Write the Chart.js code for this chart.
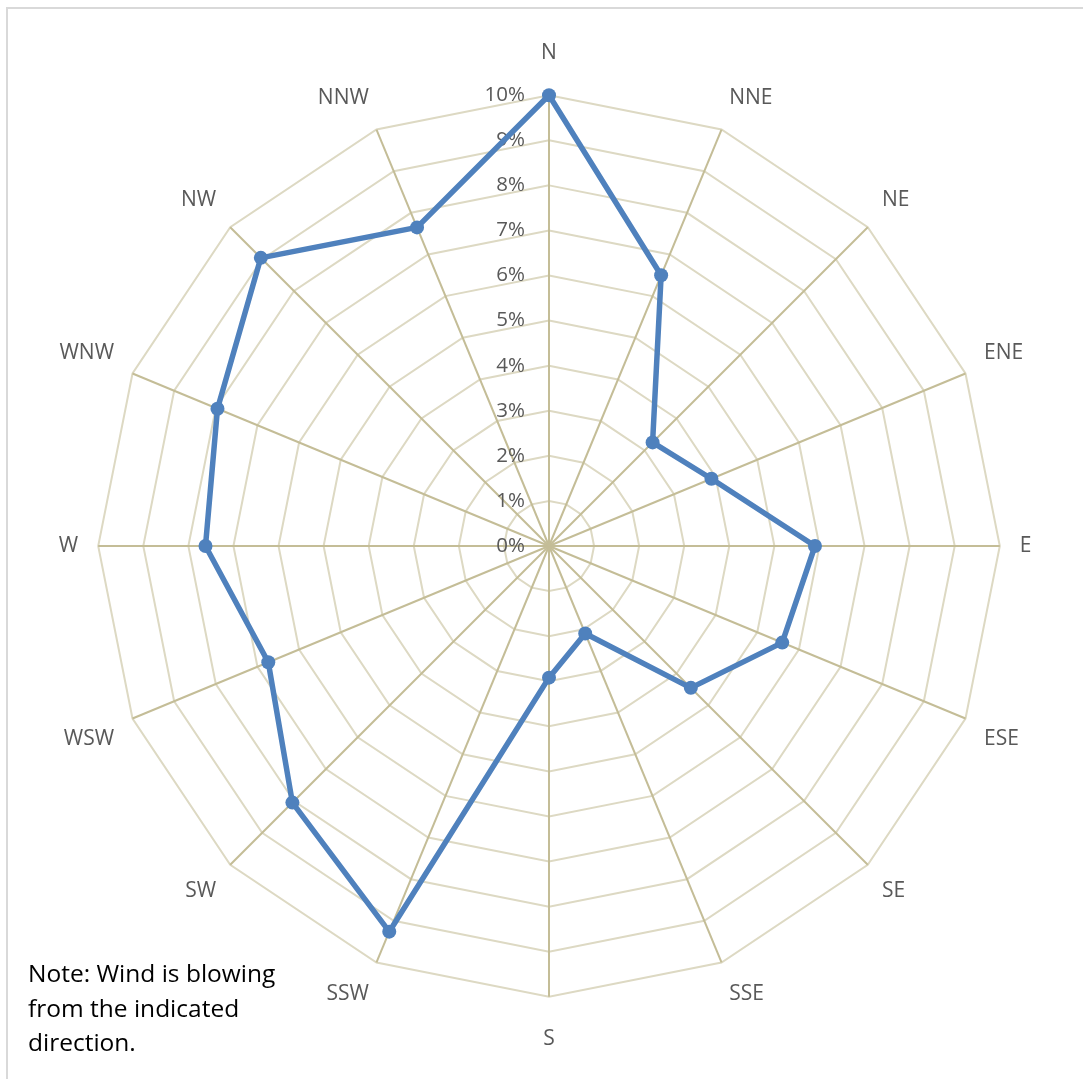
<!DOCTYPE html>
<html>
<head>
<meta charset="utf-8">
<script src="https://cdn.jsdelivr.net/npm/chart.js@4/dist/chart.umd.min.js"></script>
<style>
  html, body { margin: 0; padding: 0; background: #fff; }
  #frame { position: absolute; left: 6px; top: 7px; width: 1200px; height: 1200px; border-left: 2px solid #d9d9d9; border-top: 2px solid #d9d9d9; box-sizing: border-box; }
  #wrap { position: absolute; left: 0; top: 0; width: 1083px; height: 1079px; }
  #note { position: absolute; left: 28px; top: 956px; font-family: "Open Sans", sans-serif; font-size: 24.5px; line-height: 34.5px; color: #000; }
</style>
</head>
<body>
<div id="frame"></div>
<div id="wrap"><canvas id="c"></canvas></div>
<div id="note">Note: Wind is blowing<br>from the indicated<br>direction.</div>
<script>
const directions = ['N','NNE','NE','ENE','E','ESE','SE','SSE','S','SSW','SW','WSW','W','WNW','NW','NNW'];
const windPercent = [10.0, 6.5, 3.25, 3.9, 5.9, 5.6, 4.45, 2.1, 2.92, 9.26, 8.05, 6.74, 7.62, 7.96, 9.04, 7.65];
const tickValues = [0,1,2,3,4,5,6,7,8,9,10];
const tickLabels = tickValues.map(v => v + '%');

const FONT = '"Open Sans", sans-serif';

const tickPlugin = {
  id: 'tickLabels',
  beforeDatasetsDraw(chart) {
    const s = chart.scales.r;
    const ctx = chart.ctx;
    ctx.save();
    ctx.font = '20.5px ' + FONT;
    ctx.fillStyle = '#595959';
    ctx.textAlign = 'right';
    ctx.textBaseline = 'middle';
    tickValues.forEach((v, i) => {
      const d = s.getDistanceFromCenterForValue(v);
      ctx.fillText(tickLabels[i], s.xCenter - 24, s.yCenter - d);
    });
    ctx.restore();
  }
};

new Chart(document.getElementById('c'), {
  type: 'radar',
  data: {
    labels: directions,
    datasets: [{
      data: windPercent,
      borderColor: '#4F81BD',
      backgroundColor: '#4F81BD',
      borderWidth: 5.5,
      fill: false,
      pointRadius: 7,
      pointBackgroundColor: '#4F81BD',
      pointBorderColor: '#4F81BD',
      pointBorderWidth: 0,
      borderJoinStyle: 'round',
      tension: 0
    }]
  },
  options: {
    responsive: true,
    maintainAspectRatio: false,
    animation: false,
    layout: { padding: { left: 44, right: 35, top: 41, bottom: 26 } },
    plugins: { legend: { display: false }, tooltip: { enabled: false } },
    scales: {
      r: {
        min: 0,
        max: 10,
        ticks: { display: false, stepSize: 1 },
        grid: { circular: false, color: '#DDD9C3', lineWidth: 2 },
        angleLines: { display: true, color: '#C4BD97', lineWidth: 2 },
        pointLabels: {
          color: '#595959',
          font: { family: FONT, size: 21 },
          padding: ctx => (ctx.index === 0 || ctx.index === 8) ? 30 : 20
        }
      }
    }
  },
  plugins: [tickPlugin]
});
</script>
</body>
</html>
